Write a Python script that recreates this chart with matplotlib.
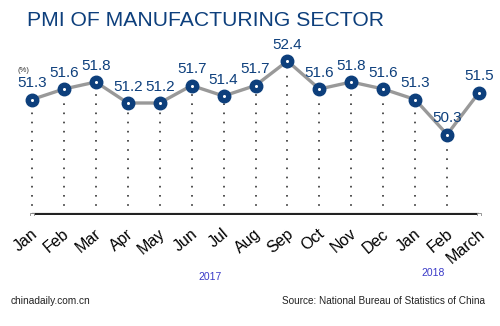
import matplotlib
matplotlib.use("Agg")
import matplotlib.pyplot as plt
import numpy as np

# monthly PMI readings, Jan 2017 - March 2018
months = ["Jan", "Feb", "Mar", "Apr", "May", "Jun", "Jul", "Aug",
          "Sep", "Oct", "Nov", "Dec", "Jan", "Feb", "March"]
pmi = [51.3, 51.6, 51.8, 51.2, 51.2, 51.7, 51.4, 51.7,
       52.4, 51.6, 51.8, 51.6, 51.3, 50.3, 51.5]
years = ["2017", "2018"]

NAVY = "#0d3f7c"
plt.rcParams["font.family"] = ["Liberation Sans", "DejaVu Sans"]

fig = plt.figure(figsize=(5.0, 3.26), dpi=100)
# axes box in pixels: left 16, right 495, bottom (baseline) 215, top 40
ax = fig.add_axes([16 / 500, 1 - 215 / 326, 479 / 500, 175 / 326])
ax.set_xlim(-0.5, 14.5)
ax.set_ylim(48.0, 53.0)
ax.axis("off")

x = np.arange(len(months))
base = 48.0

# dotted drop lines down to the baseline (none under the last point)
for xi, v in zip(x[:-1], pmi[:-1]):
    ax.plot([xi, xi], [base, v], color="#333333", lw=1.2,
            linestyle=(0, (1, 4.5)), zorder=1)

# baseline with small square end caps
ax.plot([x[0], x[-1]], [base, base], color="#222222", lw=3,
        solid_capstyle="butt", zorder=2)
ax.plot([x[0], x[-1]], [base, base], linestyle="none", marker="s",
        ms=3, mfc="white", mec="#888888", mew=0.6, zorder=3)

# line with markers
ax.plot(x, pmi, color="#999999", lw=2.4, zorder=3)
ax.plot(x, pmi, linestyle="none", marker="o", ms=9, mfc=NAVY,
        mec=NAVY, zorder=4)
ax.plot(x, pmi, linestyle="none", marker="o", ms=2.2, mfc="white",
        mec="white", mew=0, zorder=5)

# value labels
for xi, v in zip(x, pmi):
    ax.text(xi, v + 0.26, f"{v:.1f}", ha="center", va="bottom",
            fontsize=11, color=NAVY, zorder=6)

# month labels
for xi, m in zip(x, months):
    ax.annotate(m, xy=(xi, base), xytext=(-1, -8), textcoords="offset points",
                ha="right", va="top", rotation=40, rotation_mode="anchor",
                fontsize=11.5, color="black")

fig.text(27 / 500, 1 - 21 / 326, "PMI OF MANUFACTURING SECTOR",
         fontsize=15.2, color=NAVY, ha="left", va="center")
fig.text(17 / 500, 1 - 71 / 326, "(%)", fontsize=5.5, color="#333333",
         ha="left", va="center")

fig.text(210 / 500, 1 - 277 / 326, years[0], fontsize=7.5, color="#3a3ac8",
         ha="center", va="center")
fig.text(433 / 500, 1 - 273 / 326, years[1], fontsize=7.5, color="#3a3ac8",
         ha="center", va="center")

fig.text(11 / 500, 1 - 301 / 326, "chinadaily.com.cn", fontsize=7.3,
         color="#222222", ha="left", va="center")
fig.text(485 / 500, 1 - 301 / 326, "Source: National Bureau of Statistics of China",
         fontsize=7.2, color="#222222", ha="right", va="center")

fig.savefig("out.png", dpi=100, facecolor="white")
